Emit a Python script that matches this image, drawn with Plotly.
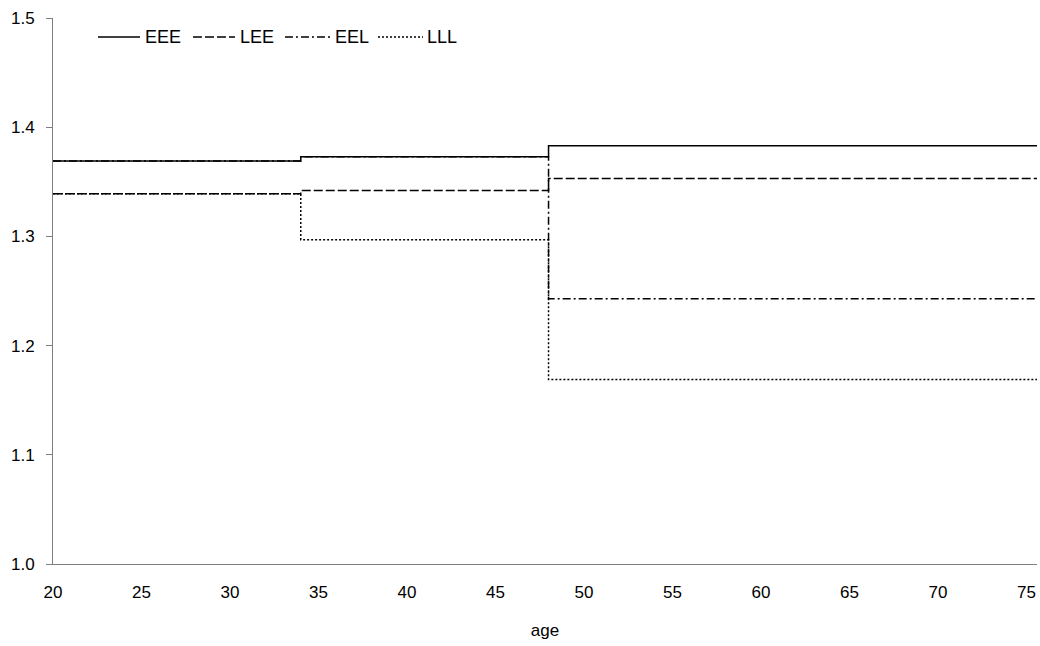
import plotly.graph_objects as go

# Ages at which the strategy periods change, and the end of the horizon
ages = [20, 34, 48, 75.6]

# Value in each period (last value repeated to close the final step)
eee = [1.369, 1.373, 1.383, 1.383]
lee = [1.339, 1.342, 1.353, 1.353]
eel = [1.369, 1.373, 1.243, 1.243]
lll = [1.339, 1.297, 1.169, 1.169]

series_names = ["EEE", "LEE", "EEL", "LLL"]
series_values = [eee, lee, eel, lll]
dashes = ["solid", "9px,3px", "8px,3px,2px,3px", "2px,2px"]

x_ticks = [20, 25, 30, 35, 40, 45, 50, 55, 60, 65, 70, 75]
y_ticks = [1.0, 1.1, 1.2, 1.3, 1.4, 1.5]

W, H = 1040, 646
L, R, T, B = 53, 3, 18, 82
PW, PH = W - L - R, H - T - B

FONT = "Liberation Sans, Arial, sans-serif"

fig = go.Figure()
for name, vals, dash in zip(series_names, series_values, dashes):
    fig.add_trace(go.Scatter(
        x=ages, y=vals, name=name, mode="lines",
        line=dict(color="black", width=1.5, dash=dash, shape="hv"),
        showlegend=False,
    ))

# Legend row drawn along the top of the plot area
def px_x(p):
    return (p - L) / PW

def px_y(p):
    return (H - B - p) / PH

legend_keys = [(98, 140, 143), (193, 235, 238), (285, 330, 333), (378, 423, 425)]
leg_y = 37
for (x0, x1, tx), name, dash in zip(legend_keys, series_names, dashes):
    fig.add_shape(type="line", xref="paper", yref="paper",
                  x0=px_x(x0), x1=px_x(x1), y0=px_y(leg_y), y1=px_y(leg_y),
                  line=dict(color="black", width=1.5, dash=dash))
    fig.add_annotation(xref="paper", yref="paper", x=px_x(tx), y=px_y(leg_y),
                       text=name, showarrow=False, xanchor="left", yanchor="middle",
                       font=dict(family=FONT, size=18, color="black"))

axis_color = "#7f7f7f"
fig.update_layout(
    width=W, height=H,
    margin=dict(l=L, r=R, t=T, b=B, pad=0),
    paper_bgcolor="white", plot_bgcolor="white",
    font=dict(family=FONT, size=17, color="black"),
    showlegend=False,
    xaxis=dict(
        range=[20, 75.6], tickvals=x_ticks, ticktext=[str(v) for v in x_ticks],
        showgrid=False, zeroline=False, showline=True, linecolor=axis_color, linewidth=1,
        ticks="outside", ticklen=13, tickcolor="rgba(0,0,0,0)",
        title=dict(text="age", standoff=22, font=dict(size=17)),
        tickfont=dict(size=17),
    ),
    yaxis=dict(
        range=[1.0, 1.5], tickvals=y_ticks, ticktext=[f"{v:.1f}" for v in y_ticks],
        showgrid=False, zeroline=False, showline=True, linecolor=axis_color, linewidth=1,
        ticks="outside", ticklen=6, tickcolor=axis_color,
        ticklabelstandoff=8,
        tickfont=dict(size=17),
    ),
)

fig.write_html("out.html")
